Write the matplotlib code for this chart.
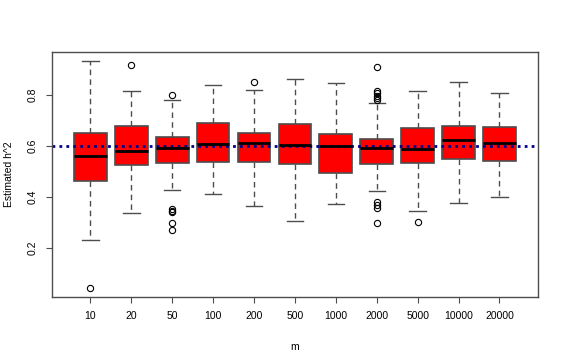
import matplotlib.pyplot as plt

plt.rcParams['font.family'] = ['Liberation Sans', 'DejaVu Sans']

# values
m_labels = ['10', '20', '50', '100', '200', '500', '1000', '2000', '5000', '10000', '20000']
whis_lo = [0.230, 0.336, 0.425, 0.409, 0.365, 0.305, 0.370, 0.422, 0.345, 0.377, 0.400]
q1 = [0.463, 0.525, 0.531, 0.537, 0.536, 0.527, 0.492, 0.527, 0.532, 0.547, 0.541]
med = [0.561, 0.580, 0.592, 0.608, 0.609, 0.601, 0.599, 0.592, 0.587, 0.624, 0.612]
q3 = [0.651, 0.678, 0.634, 0.690, 0.651, 0.685, 0.647, 0.627, 0.668, 0.678, 0.672]
whis_hi = [0.932, 0.816, 0.779, 0.838, 0.818, 0.863, 0.847, 0.766, 0.813, 0.849, 0.805]
outliers = [
    [0.042],
    [0.915],
    [0.800, 0.350, 0.345, 0.340, 0.298, 0.269],
    [],
    [0.849],
    [],
    [],
    [0.910, 0.815, 0.805, 0.796, 0.787, 0.779, 0.379, 0.366, 0.356, 0.296],
    [0.300],
    [],
    [],
]
true_h2 = 0.6

stats = []
for i in range(len(m_labels)):
    stats.append({'whislo': whis_lo[i], 'q1': q1[i], 'med': med[i], 'q3': q3[i],
                  'whishi': whis_hi[i], 'fliers': outliers[i]})

fig = plt.figure(figsize=(5.65, 3.62), dpi=100)
ax = fig.add_axes([0.092, 0.180, 0.860, 0.676])

edge = '#4d4d4d'
pos = list(range(1, len(m_labels) + 1))
ax.bxp(stats, positions=pos, widths=0.8, capwidths=0.4, patch_artist=True,
       boxprops=dict(facecolor='#ff0000', edgecolor=edge, linewidth=1.2),
       medianprops=dict(color='black', linewidth=2.0),
       whiskerprops=dict(color=edge, linestyle=(0, (4, 3)), linewidth=1.0),
       capprops=dict(color=edge, linewidth=1.0),
       flierprops=dict(marker='o', markerfacecolor='none', markeredgecolor='black',
                       markersize=4.5, markeredgewidth=0.8))

ax.axhline(true_h2, color='#00008b', linestyle=(0, (1, 1.5)), linewidth=2)

ax.set_xlim(0.06, 11.94)
ax.set_ylim(0.007, 0.967)
ax.set_xticks(pos)
ax.set_xticklabels(m_labels)
ax.set_yticks([0.2, 0.4, 0.6, 0.8])
ax.set_yticklabels(['0.2', '0.4', '0.6', '0.8'], rotation=90, va='center')
ax.tick_params(length=4, width=0.8, color=edge, labelsize=7.5, pad=6)
for s in ax.spines.values():
    s.set_color(edge)
    s.set_linewidth(1.0)

ax.set_xlabel('m', fontsize=7.5)
ax.set_ylabel('Estimated h^2', fontsize=7.5)
ax.xaxis.set_label_coords(0.5, -0.184)
ax.yaxis.set_label_coords(-0.078, 0.5)

fig.savefig('out.png', dpi=100)
